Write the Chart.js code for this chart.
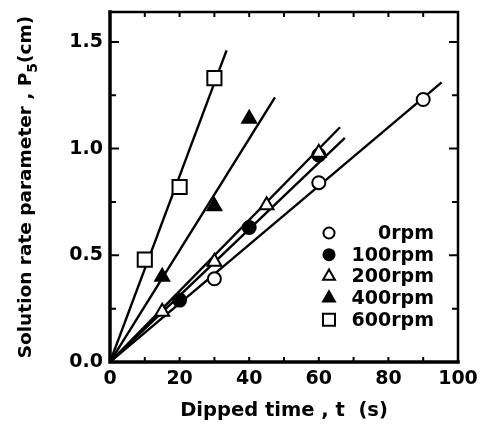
<!DOCTYPE html>
<html>
<head>
<meta charset="utf-8">
<script src="https://cdn.jsdelivr.net/npm/chart.js@4.4.1/dist/chart.umd.min.js"></script>
<style>
  html, body { margin: 0; padding: 0; background: #fff; }
</style>
</head>
<body>
<canvas id="plot" width="481" height="425"></canvas>
<script>
const FONT = "'DejaVu Sans', sans-serif";

// rotation speeds (legend order)
const speeds = ['0rpm', '100rpm', '200rpm', '400rpm', '600rpm'];

// dipped time t (s) and P5 (cm) for each speed
const t0 = [30, 60, 90];          const p0 = [0.39, 0.84, 1.23];
const t100 = [20, 40, 60];        const p100 = [0.29, 0.63, 0.97];
const t200 = [15, 30, 45, 60];    const p200 = [0.235, 0.47, 0.735, 0.98];
const t400 = [15, 30, 40];        const p400 = [0.40, 0.73, 1.14];
const t600 = [10, 20, 30];        const p600 = [0.48, 0.82, 1.33];

// straight fits through the origin: far end of each line
const fitEndT = [95.3, 67.5, 66.1, 47.4, 33.5];
const fitEndP = [1.31, 1.05, 1.10, 1.24, 1.46];

const xTicks = [0, 20, 40, 60, 80, 100];
const yTicks = [0.0, 0.5, 1.0, 1.5];

const seriesT = [t0, t100, t200, t400, t600];
const seriesP = [p0, p100, p200, p400, p600];
const markers = [
  { style: 'circle',   fill: '#fff', r: 6.5 },
  { style: 'circle',   fill: '#000', r: 6.5 },
  { style: 'triangle', fill: '#fff', r: 8 },
  { style: 'triangle', fill: '#000', r: 8 },
  { style: 'rect',     fill: '#fff', r: 10 },
];

const pts = (xs, ys) => xs.map((x, i) => ({ x, y: ys[i] }));

const datasets = [];
speeds.forEach((name, i) => {
  const m = markers[i];
  datasets.push({
    label: name,
    data: pts(seriesT[i], seriesP[i]),
    pointStyle: m.style,
    pointRadius: m.r,
    pointBackgroundColor: m.fill,
    pointBorderColor: '#000',
    pointBorderWidth: 2,
    showLine: false,
    order: i === 2 ? 0 : 1,
  });
});
speeds.forEach((name, i) => {
  datasets.push({
    label: name + ' fit',
    data: pts([0, fitEndT[i]], [0, fitEndP[i]]),
    showLine: true,
    borderColor: '#000',
    borderWidth: 2.4,
    pointRadius: 0,
    order: 2,
  });
});

// box around the plot with inward tick marks on all four sides
const frame = {
  id: 'frame',
  afterDraw(chart) {
    const { ctx, chartArea: a, scales: { x, y } } = chart;
    ctx.save();
    ctx.strokeStyle = '#000';
    ctx.lineCap = 'square';
    ctx.lineWidth = 3.5;
    ctx.beginPath();
    ctx.moveTo(a.left, a.top); ctx.lineTo(a.left, a.bottom); ctx.lineTo(a.right, a.bottom);
    ctx.stroke();
    ctx.lineWidth = 2.5;
    ctx.beginPath();
    ctx.moveTo(a.left, a.top); ctx.lineTo(a.right, a.top); ctx.lineTo(a.right, a.bottom);
    ctx.stroke();

    ctx.lineWidth = 2;
    ctx.lineCap = 'butt';
    ctx.beginPath();
    for (let v = 10; v < 100; v += 10) {
      const px = x.getPixelForValue(v);
      ctx.moveTo(px, a.bottom); ctx.lineTo(px, a.bottom - 5);
      ctx.moveTo(px, a.top); ctx.lineTo(px, a.top + 5);
    }
    for (let v = 0.25; v < 1.64; v += 0.25) {
      const py = y.getPixelForValue(v);
      const len = Math.abs(v % 0.5) < 1e-6 ? 9 : 6;
      ctx.moveTo(a.left, py); ctx.lineTo(a.left + len, py);
      ctx.moveTo(a.right, py); ctx.lineTo(a.right - len, py);
    }
    ctx.stroke();
    ctx.restore();
  }
};

// vertical y-axis title with subscript
const yTitle = {
  id: 'yTitle',
  afterDraw(chart) {
    const { ctx, chartArea: a } = chart;
    const main = 'Solution rate parameter , P', sub = '5', tail = '(cm)';
    ctx.save();
    ctx.fillStyle = '#000';
    ctx.textBaseline = 'alphabetic';
    const big = `bold 18.5px ${FONT}`, small = `bold 14px ${FONT}`;
    ctx.font = big;
    const w1 = ctx.measureText(main).width, w3 = ctx.measureText(tail).width;
    ctx.font = small;
    const w2 = ctx.measureText(sub).width;
    const total = w1 + w2 + w3;
    ctx.translate(31, (a.top + a.bottom) / 2);
    ctx.rotate(-Math.PI / 2);
    let xx = -total / 2;
    ctx.font = big; ctx.fillText(main, xx, 0); xx += w1;
    ctx.font = small; ctx.fillText(sub, xx, 6); xx += w2;
    ctx.font = big; ctx.fillText(tail, xx, 0);
    ctx.restore();
  }
};

// legend inside the plot: markers left, labels right-aligned
const keyBox = {
  id: 'keyBox',
  afterDraw(chart) {
    const { ctx } = chart;
    ctx.save();
    ctx.font = `bold 19px ${FONT}`;
    ctx.textAlign = 'right';
    ctx.textBaseline = 'middle';
    speeds.forEach((name, i) => {
      const m = markers[i];
      const yy = 233 + i * 21.7;
      ctx.fillStyle = m.fill;
      ctx.strokeStyle = '#000';
      ctx.lineWidth = 2;
      Chart.helpers.drawPoint(ctx, { pointStyle: m.style, radius: m.r * 0.85, rotation: 0, borderWidth: 2 }, 329, yy);
      ctx.fillStyle = '#000';
      ctx.fillText(name, 434, yy + 1);
    });
    ctx.restore();
  }
};

const tickFont = { family: FONT, size: 19, weight: 'bold' };

new Chart(document.getElementById('plot'), {
  type: 'scatter',
  data: { datasets },
  options: {
    responsive: false,
    animation: false,
    devicePixelRatio: 1,
    layout: { padding: { left: 0, right: 23, top: 12, bottom: 0 } },
    plugins: { legend: { display: false }, tooltip: { enabled: false } },
    scales: {
      x: {
        type: 'linear', min: 0, max: 100,
        grid: { display: false, drawTicks: false },
        border: { display: false },
        afterBuildTicks: s => { s.ticks = xTicks.map(value => ({ value })); },
        afterFit: s => { s.height = 63; s.paddingLeft = 0; s.paddingRight = 0; },
        ticks: { color: '#000', font: tickFont, padding: 6, maxRotation: 0 },
        title: {
          display: true, text: 'Dipped time , t  (s)', color: '#000',
          font: { family: FONT, size: 19.5, weight: 'bold', lineHeight: 1.2 },
          padding: { top: 0, bottom: 2 },
        },
      },
      y: {
        type: 'linear', min: 0, max: 1.64,
        grid: { display: false, drawTicks: false },
        border: { display: false },
        afterBuildTicks: s => { s.ticks = yTicks.map(value => ({ value })); },
        afterFit: s => { s.width = 110; s.paddingTop = 0; s.paddingBottom = 0; },
        ticks: { color: '#000', font: tickFont, padding: 7, callback: v => v.toFixed(1) },
      },
    },
  },
  plugins: [frame, yTitle, keyBox],
});
</script>
</body>
</html>
